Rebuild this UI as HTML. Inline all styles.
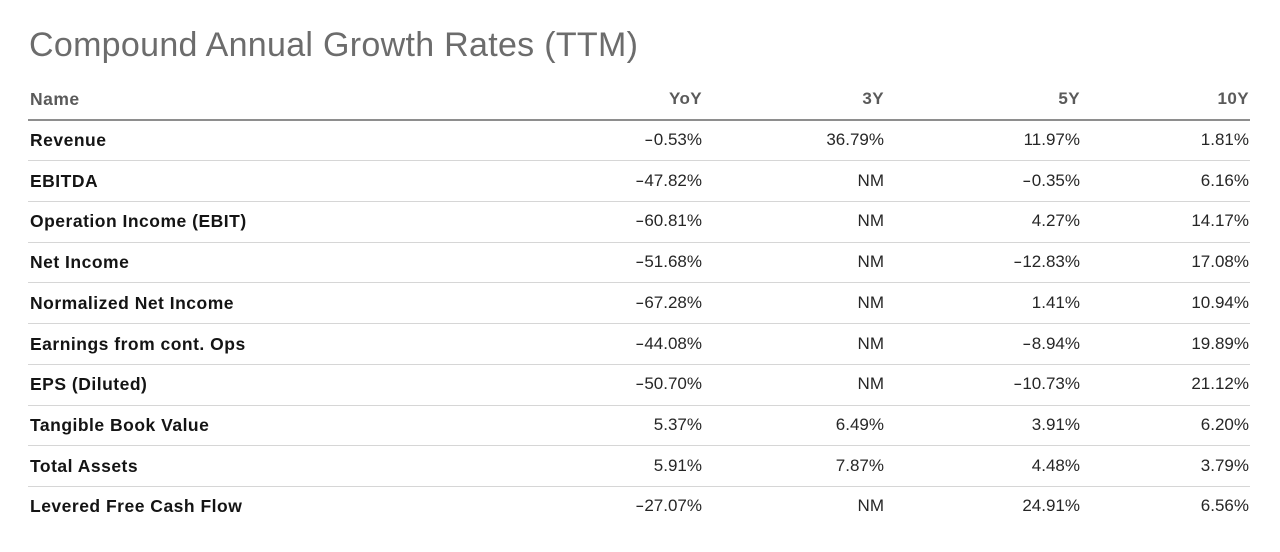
<!DOCTYPE html>
<html>
<head>
<meta charset="utf-8">
<style>
  html, body { margin:0; padding:0; background:#fff; }
  body { width:1280px; height:552px; position:relative; overflow:hidden; font-family:"Liberation Sans", Arial, sans-serif; }
  .title { position:absolute; left:29px; top:25px; font-size:34px; line-height:40px; color:#6c6c6c; white-space:nowrap; letter-spacing:0.3px; }
  .row { position:absolute; left:0; width:1280px; height:20px; font-size:17px; line-height:20px; }
  .row > span { position:absolute; white-space:nowrap; top:0; }
  .row > .n { left:30px; font-weight:bold; color:#141414; letter-spacing:0.5px; font-size:17.5px; }
  .row > .c1 { right:578px; } .row > .c2 { right:396px; } .row > .c3 { right:200px; } .row > .c4 { right:31px; }
  .row > .v { color:#262626; }
  .hdr > span { font-weight:bold; color:#5a5a5a; letter-spacing:0.4px; }
  .m { display:inline-block; transform:scaleX(1.6); margin:0 2px 0 2px; }
  .line { position:absolute; left:28px; width:1222px; height:1px; background:#d6d6d6; }
  .hline { position:absolute; left:28px; width:1222px; height:2px; top:119px; background:#8e8e8e; }
</style>
</head>
<body>
<div class="title">Compound Annual Growth Rates (TTM)</div>

<div class="row hdr" style="top:89px;">
  <span class="n" style="color:#5a5a5a;">Name</span>
  <span class="c1">YoY</span><span class="c2">3Y</span><span class="c3">5Y</span><span class="c4">10Y</span>
</div>
<div class="hline"></div>

<div class="row" style="top:130px;"><span class="n">Revenue</span><span class="v c1"><span class="m">-</span>0.53%</span><span class="v c2">36.79%</span><span class="v c3">11.97%</span><span class="v c4">1.81%</span></div>
<div class="line" style="top:160px;"></div>

<div class="row" style="top:171px;"><span class="n">EBITDA</span><span class="v c1"><span class="m">-</span>47.82%</span><span class="v c2">NM</span><span class="v c3"><span class="m">-</span>0.35%</span><span class="v c4">6.16%</span></div>
<div class="line" style="top:201px;"></div>

<div class="row" style="top:211px;"><span class="n">Operation Income (EBIT)</span><span class="v c1"><span class="m">-</span>60.81%</span><span class="v c2">NM</span><span class="v c3">4.27%</span><span class="v c4">14.17%</span></div>
<div class="line" style="top:242px;"></div>

<div class="row" style="top:252px;"><span class="n">Net Income</span><span class="v c1"><span class="m">-</span>51.68%</span><span class="v c2">NM</span><span class="v c3"><span class="m">-</span>12.83%</span><span class="v c4">17.08%</span></div>
<div class="line" style="top:282px;"></div>

<div class="row" style="top:293px;"><span class="n">Normalized Net Income</span><span class="v c1"><span class="m">-</span>67.28%</span><span class="v c2">NM</span><span class="v c3">1.41%</span><span class="v c4">10.94%</span></div>
<div class="line" style="top:323px;"></div>

<div class="row" style="top:334px;"><span class="n">Earnings from cont. Ops</span><span class="v c1"><span class="m">-</span>44.08%</span><span class="v c2">NM</span><span class="v c3"><span class="m">-</span>8.94%</span><span class="v c4">19.89%</span></div>
<div class="line" style="top:364px;"></div>

<div class="row" style="top:374px;"><span class="n">EPS (Diluted)</span><span class="v c1"><span class="m">-</span>50.70%</span><span class="v c2">NM</span><span class="v c3"><span class="m">-</span>10.73%</span><span class="v c4">21.12%</span></div>
<div class="line" style="top:405px;"></div>

<div class="row" style="top:415px;"><span class="n">Tangible Book Value</span><span class="v c1">5.37%</span><span class="v c2">6.49%</span><span class="v c3">3.91%</span><span class="v c4">6.20%</span></div>
<div class="line" style="top:445px;"></div>

<div class="row" style="top:456px;"><span class="n">Total Assets</span><span class="v c1">5.91%</span><span class="v c2">7.87%</span><span class="v c3">4.48%</span><span class="v c4">3.79%</span></div>
<div class="line" style="top:486px;"></div>

<div class="row" style="top:496px;"><span class="n">Levered Free Cash Flow</span><span class="v c1"><span class="m">-</span>27.07%</span><span class="v c2">NM</span><span class="v c3">24.91%</span><span class="v c4">6.56%</span></div>
</body>
</html>
